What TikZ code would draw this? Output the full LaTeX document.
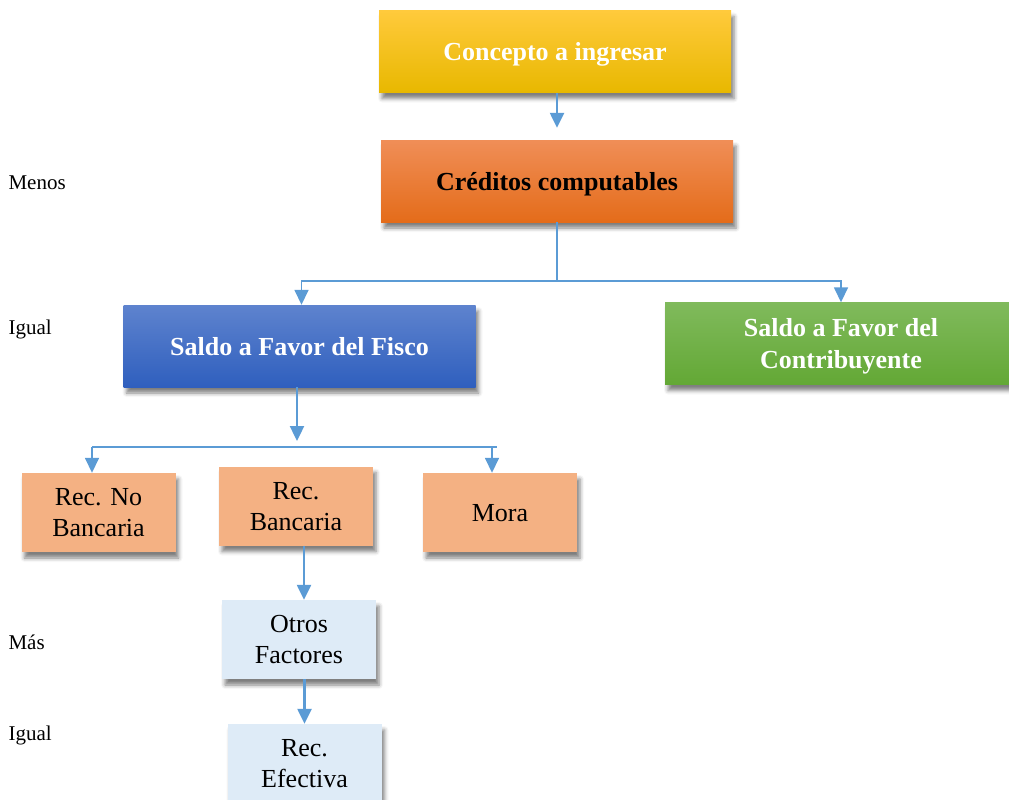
\documentclass[tikz,border=0pt]{standalone}
\usepackage{fontspec}
\setmainfont{Liberation Serif}
\usetikzlibrary{arrows.meta,shadows.blur}
\definecolor{arrowblue}{HTML}{5B9BD5}
\definecolor{salmon}{HTML}{F4B183}
\definecolor{paleblue}{HTML}{DEEBF7}
\begin{document}
\begin{tikzpicture}[x=1pt,y=-1pt,
    box/.style={rectangle, inner sep=0pt, align=center, text depth=0pt,
      font=\fontsize{26}{31}\selectfont,
      blur shadow={shadow xshift=3pt, shadow yshift=-6pt, shadow opacity=50, shadow blur radius=4pt}},
    bigbox/.style={box, minimum width=352pt, minimum height=82pt, font=\fontsize{26}{32}\selectfont\bfseries},
    smallbox/.style={box, minimum width=154pt, minimum height=79pt},
    side/.style={anchor=west, font=\fontsize{21}{24}\selectfont},
    line/.style={draw=arrowblue, line width=1.6pt},
    arr/.style={line, line width=2.4pt, -{Triangle[width=14pt,length=15pt]}},
    brarr/.style={line, -{Triangle[width=14pt,length=15pt]}}]
  \useasboundingbox (0,0) rectangle (1009,800);
  % main boxes
  \node[bigbox, text=white, top color={rgb,255:red,255;green,202;blue,60}, middle color={rgb,255:red,255;green,192;blue,0}, bottom color={rgb,255:red,232;green,184;blue,0}] (concepto) at (555,51.5) {Concepto a ingresar};
  \node[bigbox, text=black, top color={rgb,255:red,240;green,142;blue,87}, middle color={rgb,255:red,240;green,124;blue,46}, bottom color={rgb,255:red,228;green,108;blue,26}] (creditos) at (557,181) {Cr\'editos computables};
  \node[bigbox, text=white, top color={rgb,255:red,94;green,131;blue,206}, bottom color={rgb,255:red,47;green,95;blue,190}] (fisco) at (299.5,346) {Saldo a Favor del Fisco};
  \node[bigbox, text=white, top color={rgb,255:red,128;green,186;blue,92}, bottom color={rgb,255:red,99;green,168;blue,53}] (contrib) at (841,343.5) {Saldo a Favor del\\Contribuyente};
  % lower boxes
  \node[smallbox, fill=salmon] (norec) at (98.5,512.5) {Rec. No\\Bancaria};
  \node[smallbox, fill=salmon] (bancaria) at (296,506) {Rec.\\Bancaria};
  \node[smallbox, fill=salmon] (mora) at (500,512.5) {Mora};
  \node[smallbox, fill=paleblue] (otros) at (299,639.5) {Otros\\Factores};
  \node[smallbox, fill=paleblue] (efectiva) at (304.5,763.5) {Rec.\\Efectiva};
  % side labels
  \node[side] (menos) at (5,183) {Menos};
  \node[side] (igual1) at (5,329) {Igual};
  \node[side] (mas) at (5,642) {M\'as};
  \node[side] (igual2) at (5,735) {Igual};
  % connectors
  \coordinate (split1) at (557,281);
  \coordinate (split2) at (297,447);
  \coordinate (brL) at (92,447);
  \coordinate (brR) at (497,447);
  \draw[arr, shorten >=12pt] (concepto.south -| creditos.north) -- (creditos.north);
  \draw[line] (creditos.south) -- (split1);
  \draw[brarr] (split1) -| ([xshift=2pt]fisco.north);
  \draw[brarr] (split1) -| (contrib.north);
  \draw[arr] (fisco.south -| split2) -- ([yshift=6pt]split2);
  \draw[line] (brL) -- (brR);
  \draw[brarr] (brL) -- (brL |- norec.north);
  \draw[brarr] ([xshift=-5pt]brR) -- ([xshift=-5pt]brR |- mora.north);
  \draw[arr] ([xshift=8pt]bancaria.south) -- ([xshift=5pt]otros.north);
  \draw[arr] (otros.south -| efectiva.north) -- (efectiva.north);
\end{tikzpicture}
\end{document}
